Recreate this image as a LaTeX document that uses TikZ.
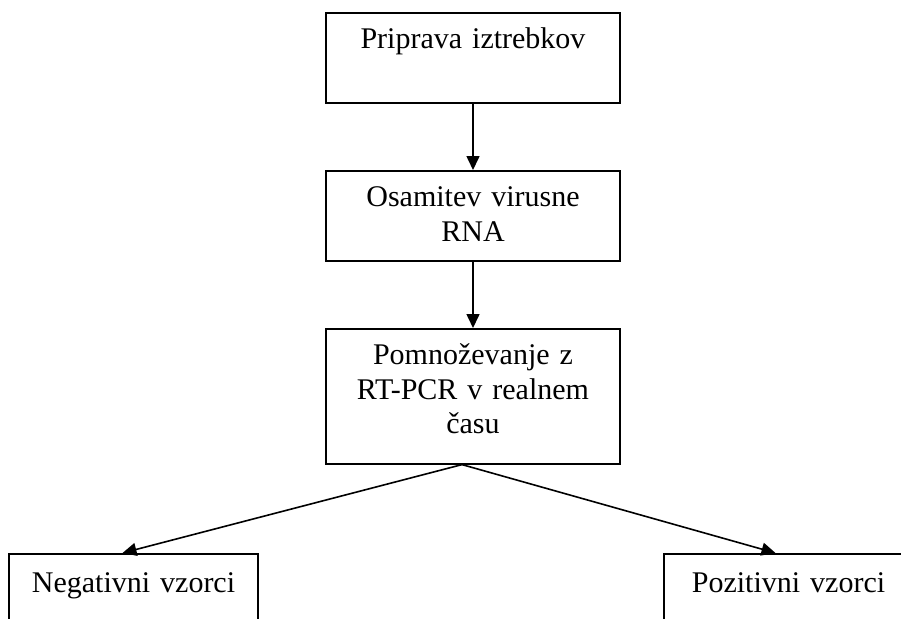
\documentclass[tikz,border=0pt]{standalone}
\usepackage{fontspec}
\setmainfont{Liberation Serif}
\usetikzlibrary{arrows.meta}

\begin{document}
\begin{tikzpicture}[
    x=1pt,
    y=-1pt,
    >={Triangle[length=14pt,width=13pt]},
    box/.style={draw, line width=1.6pt, align=center, text width=294pt, inner sep=0pt, anchor=north, text height=36pt, font=\fontsize{30}{34.5}\selectfont},
    outbox/.style={box, text width=249pt, text height=39pt, text depth=60pt},
    line/.style={->, line width=1.6pt}
]
\useasboundingbox (0,0) rectangle (901,618);
\node[box, text depth=54pt] (prep) at (473,12) {Priprava iztrebkov};
\node[box, text depth=54pt] (isol) at (473,170) {Osamitev virusne\\RNA};
\node[box, text depth=99pt] (pcr) at (473,328) {Pomnoževanje z\\RT-PCR v realnem\\času};
\node[outbox] (neg) at (133.5,553) {Negativni vzorci};
\node[outbox] (pos) at (788.5,553) {Pozitivni vzorci};
\coordinate (split) at ([xshift=-11pt]pcr.south);

\draw[line] (prep) -- (isol);
\draw[line] (isol) -- (pcr);
\draw[line] (split) -- ([xshift=-11pt]neg.north);
\draw[line] (split) -- ([xshift=-13pt]pos.north);
\end{tikzpicture}
\end{document}
